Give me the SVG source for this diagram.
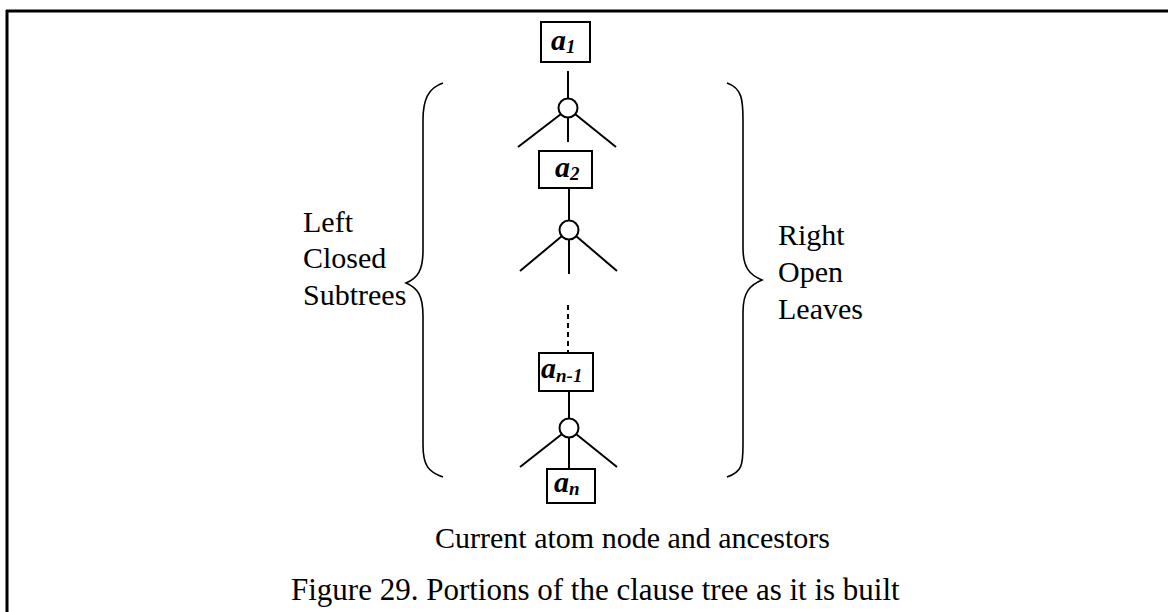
<svg xmlns="http://www.w3.org/2000/svg" width="1168" height="612" viewBox="0 0 1168 612">
<style>
.ln{stroke:#000;stroke-width:2;fill:none}
.br{stroke:#000;stroke-width:1.6;fill:none}
.bx{stroke:#000;stroke-width:2;fill:#fff}
.lab{font-family:"Liberation Serif","Times New Roman",serif;font-size:30px;fill:#000}
.at{font-family:"Liberation Serif","Times New Roman",serif;font-style:italic;font-weight:bold;font-size:30px;fill:#000}
.sub{font-size:19px}
</style>
<rect x="0" y="0" width="1168" height="612" fill="#fff"/>
<g id="frame">
<line x1="6" y1="11" x2="1168" y2="11" stroke="#000" stroke-width="3"/>
<line x1="7" y1="10" x2="7" y2="612" stroke="#000" stroke-width="3"/>
</g>
<g id="connectors">
<line class="ln" x1="568" y1="71" x2="568" y2="99"/>
<line class="ln" x1="561" y1="114" x2="518" y2="147"/>
<line class="ln" x1="575" y1="114" x2="616" y2="147"/>
<line class="ln" x1="568" y1="117" x2="568" y2="142"/>
<line class="ln" x1="569" y1="188" x2="569" y2="221"/>
<line class="ln" x1="562" y1="236" x2="520" y2="271"/>
<line class="ln" x1="576" y1="236" x2="617" y2="271"/>
<line class="ln" x1="569" y1="239" x2="569" y2="274"/>
<line class="ln" x1="568" y1="305" x2="568" y2="353" stroke-dasharray="5 4"/>
<line class="ln" x1="569" y1="391" x2="569" y2="419"/>
<line class="ln" x1="562" y1="434" x2="520" y2="467"/>
<line class="ln" x1="576" y1="434" x2="617" y2="467"/>
<line class="ln" x1="569" y1="437" x2="569" y2="469"/>
</g>
<g id="n1"><rect class="bx" x="541" y="22" width="49" height="40"/><text class="at" x="551" y="50">a<tspan class="sub" dy="3">1</tspan></text></g>
<g id="c1"><circle class="ln" cx="568" cy="108" r="9.5"/></g>
<g id="n2"><rect class="bx" x="539" y="151" width="53" height="37"/><text class="at" x="555" y="177">a<tspan class="sub" dy="3">2</tspan></text></g>
<g id="c2"><circle class="ln" cx="569" cy="230" r="9.5"/></g>
<g id="n3"><rect class="bx" x="539" y="353" width="54" height="38"/><text class="at" x="541" y="378">a<tspan class="sub" dy="4">n-1</tspan></text></g>
<g id="c3"><circle class="ln" cx="569" cy="428" r="9.5"/></g>
<g id="n4"><rect class="bx" x="547" y="469" width="48" height="34"/><text class="at" x="554" y="492">a<tspan class="sub" dy="3">n</tspan></text></g>
<g id="braces">
<path class="br" d="M443,83 C428,88 423,100 423,120 L423,250 C423,270 418,278 406,283 C418,288 423,296 423,316 L423,445 C423,465 428,472 443,477"/>
<path class="br" d="M727,83 C742,88 743,100 743,120 L743,248 C743,268 750,275 762,280 C750,285 743,292 743,312 L743,445 C743,465 742,472 727,477"/>
</g>
<g id="labels">
<text class="lab" x="303" y="232">Left</text>
<text class="lab" x="303" y="268">Closed</text>
<text class="lab" x="303" y="305">Subtrees</text>
<text class="lab" x="778" y="245">Right</text>
<text class="lab" x="778" y="282">Open</text>
<text class="lab" x="778" y="319">Leaves</text>
<text class="lab" x="435" y="548">Current atom node and ancestors</text>
<text class="lab" x="291" y="600" style="font-size:31px">Figure 29. Portions of the clause tree as it is built</text>
</g>
</svg>
